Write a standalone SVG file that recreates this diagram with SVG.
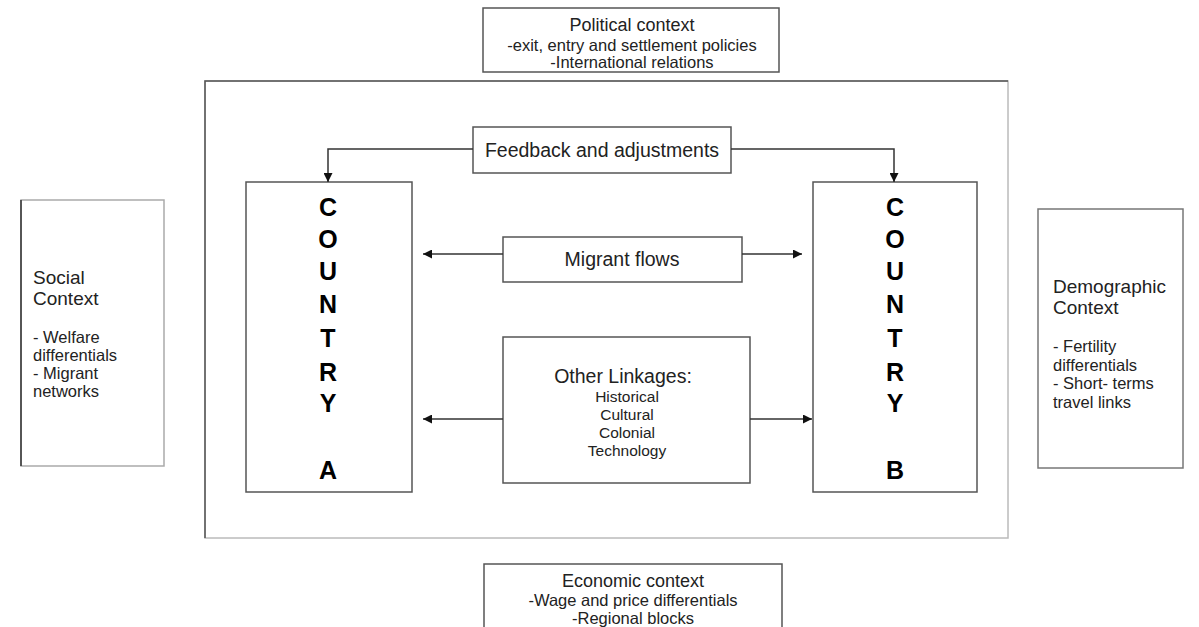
<svg xmlns="http://www.w3.org/2000/svg" width="1199" height="627" viewBox="0 0 1199 627">
<defs>
<style>
.box{fill:#fff;stroke:#555;stroke-width:1.5}
.t{font-family:"Liberation Sans",Arial,sans-serif;fill:#222}
.h{font-size:19px}
.s{font-size:16.5px}
.c{text-anchor:middle}
.big{font-family:"Liberation Sans",Arial,sans-serif;font-size:25px;font-weight:bold;fill:#000;text-anchor:middle}
.ln{fill:none;stroke:#333;stroke-width:1.5}
</style>
<marker id="ah" viewBox="0 0 10 10" refX="10" refY="5" markerWidth="10" markerHeight="9" markerUnits="userSpaceOnUse" orient="auto">
<path d="M0,0 L10,5 L0,10 z" fill="#111"/>
</marker>
</defs>
<rect width="1199" height="627" fill="#fff"/>

<g id="outer">
<rect x="205" y="81" width="803" height="457" fill="none" stroke="#bbb" stroke-width="1.5"/>
<path d="M205,538 V81 H1008" fill="none" stroke="#555" stroke-width="1.5"/>
</g>

<g id="political">
<rect class="box" x="483" y="8" width="296" height="64"/>
<text class="t c" x="632" y="31" font-size="18">Political context</text>
<text class="t c" x="632" y="51" font-size="16.5">-exit, entry and settlement policies</text>
<text class="t c" x="632" y="68" font-size="16.5">-International relations</text>
</g>

<g id="economic">
<rect class="box" x="484" y="564" width="298" height="80"/>
<text class="t c" x="633" y="587" font-size="18">Economic context</text>
<text class="t c" x="633" y="606" font-size="16.5">-Wage and price differentials</text>
<text class="t c" x="633" y="624" font-size="16.5">-Regional blocks</text>
</g>

<g id="social">
<rect x="21" y="200" width="143" height="266" fill="#fff" stroke="#aaa" stroke-width="1.5"/>
<line x1="21" y1="200" x2="21" y2="466" stroke="#333" stroke-width="1.5"/>
<text class="t h" x="33" y="284">Social</text>
<text class="t h" x="33" y="305">Context</text>
<text class="t s" x="33" y="343">- Welfare</text>
<text class="t s" x="33" y="361">differentials</text>
<text class="t s" x="33" y="379">- Migrant</text>
<text class="t s" x="33" y="397">networks</text>
</g>

<g id="demographic">
<rect x="1038" y="209" width="145" height="259" fill="#fff" stroke="#777" stroke-width="1.5"/>
<text class="t h" x="1053" y="293">Demographic</text>
<text class="t h" x="1053" y="314">Context</text>
<text class="t s" x="1053" y="352">- Fertility</text>
<text class="t s" x="1053" y="371">differentials</text>
<text class="t s" x="1053" y="389">- Short- terms</text>
<text class="t s" x="1053" y="408">travel links</text>
</g>

<g id="countryA">
<rect class="box" x="246" y="182" width="166" height="310"/>
<text class="big" x="328" y="216">C</text>
<text class="big" x="328" y="248">O</text>
<text class="big" x="328" y="280">U</text>
<text class="big" x="328" y="313">N</text>
<text class="big" x="328" y="347">T</text>
<text class="big" x="328" y="381">R</text>
<text class="big" x="328" y="412">Y</text>
<text class="big" x="328" y="479">A</text>
</g>

<g id="countryB">
<rect class="box" x="813" y="182" width="164" height="310"/>
<text class="big" x="895" y="216">C</text>
<text class="big" x="895" y="248">O</text>
<text class="big" x="895" y="280">U</text>
<text class="big" x="895" y="313">N</text>
<text class="big" x="895" y="347">T</text>
<text class="big" x="895" y="381">R</text>
<text class="big" x="895" y="412">Y</text>
<text class="big" x="895" y="479">B</text>
</g>

<g id="feedback">
<rect class="box" x="473" y="127" width="258" height="46"/>
<text class="t c" x="602" y="157" font-size="19.5">Feedback and adjustments</text>
</g>

<g id="migrant">
<rect class="box" x="503" y="237" width="239" height="45"/>
<text class="t c" x="622" y="266" font-size="19.5">Migrant flows</text>
</g>

<g id="linkages">
<rect class="box" x="503" y="337" width="247" height="146"/>
<text class="t c" x="623" y="383" font-size="19.5">Other Linkages:</text>
<text class="t c" x="627" y="402" font-size="15.5">Historical</text>
<text class="t c" x="627" y="420" font-size="15.5">Cultural</text>
<text class="t c" x="627" y="438" font-size="15.5">Colonial</text>
<text class="t c" x="627" y="456" font-size="15.5">Technology</text>
</g>

<g id="connectors">
<path class="ln" d="M473,149 H328 V182" marker-end="url(#ah)"/>
<path class="ln" d="M731,149 H894 V182" marker-end="url(#ah)"/>
<path class="ln" d="M503,254 H423" marker-end="url(#ah)"/>
<path class="ln" d="M742,254 H802" marker-end="url(#ah)"/>
<path class="ln" d="M503,419 H423" marker-end="url(#ah)"/>
<path class="ln" d="M750,419 H812" marker-end="url(#ah)"/>
</g>
</svg>
